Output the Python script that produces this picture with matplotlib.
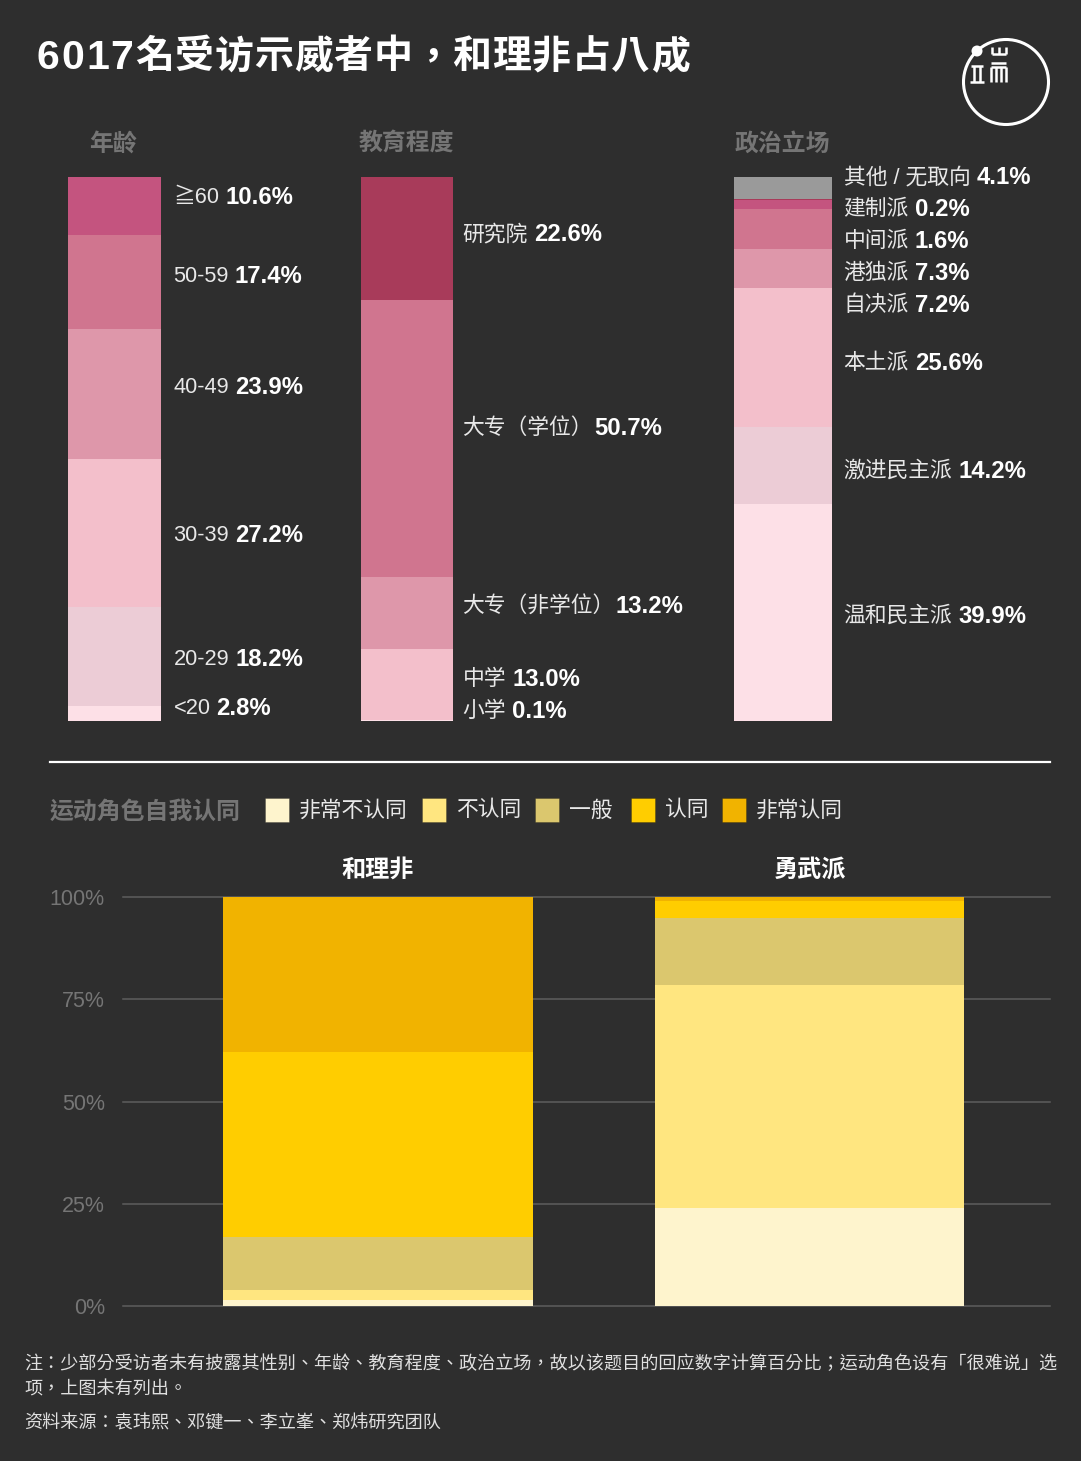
import matplotlib
matplotlib.use('Agg')
import matplotlib.pyplot as plt
from matplotlib.patches import Circle, Rectangle

plt.rcParams['font.family'] = ['Liberation Sans', 'Noto Sans CJK TC', 'DejaVu Sans']

W, H = 1081, 1461
BG = '#2e2e2e'
GREY = '#757575'

# top stacks, listed from the top of the bar down
age_labels = ['≧60', '50-59', '40-49', '30-39', '20-29', '<20']
age_values = [10.6, 17.4, 23.9, 27.2, 18.2, 2.8]
age_colors = ['#c4547f', '#d0758f', '#de97aa', '#f3bfcb', '#ecccd6', '#fde0e7']
age_label_y = [196, 275, 386, 534, 658, 707]

edu_labels = ['研究院', '大专（学位）', '大专（非学位）', '中学', '小学']
edu_values = [22.6, 50.7, 13.2, 13.0, 0.1]
edu_colors = ['#a83b5a', '#d0758f', '#de97aa', '#f3bfcb', '#fde0e7']
edu_label_y = [233, 427, 605, 678, 710]

pol_labels = ['其他 / 无取向', '建制派', '中间派', '港独派', '自决派', '本土派', '激进民主派', '温和民主派']
pol_values = [4.1, 0.2, 1.6, 7.3, 7.2, 25.6, 14.2, 39.9]
pol_colors = ['#9a9a9a', '#a83b5a', '#c4547f', '#d0758f', '#de97aa', '#f3bfcb', '#ecccd6', '#fde0e7']
pol_label_y = [176, 208, 240, 272, 304, 362, 470, 615]

# bottom chart
groups = ['和理非', '勇武派']
levels = ['非常不认同', '不认同', '一般', '认同', '非常认同']
level_colors = ['#fef4cd', '#ffe680', '#dbc76e', '#ffcd00', '#f1b300']
moderate = [1.5, 2.5, 12.8, 45.2, 38.0]
radical = [24.0, 54.5, 16.4, 4.0, 1.1]
yticks = [0, 25, 50, 75, 100]

title = '6017名受访示威者中，和理非占八成'

fig = plt.figure(figsize=(W / 100, H / 100), dpi=100, facecolor=BG)


def px_axes(x0, y0, x1, y1):
    ax = fig.add_axes([x0 / W, 1 - y1 / H, (x1 - x0) / W, (y1 - y0) / H])
    ax.set_facecolor('none')
    return ax


# overlay in pixel coords for text and decoration
ov = px_axes(0, 0, W, H)
ov.set_xlim(0, W)
ov.set_ylim(H, 0)
ov.axis('off')
ov.set_zorder(5)
renderer = fig.canvas.get_renderer()


def label(x, y, name, value):
    t = ov.text(x, y + 1.5, name, color='#e8e8e8', fontsize=15.7, va='center')
    end = t.get_window_extent(renderer).x1 * W / fig.bbox.width
    # closing bracket carries blank space on its right
    gap = 1 if name.endswith('）') else 6
    ov.text(end + gap, y + 1.5, f'{value}%', color='white', fontsize=17.2,
            fontweight='bold', va='center')


def stack(x0, x1, values, colors, names, label_x, label_y, head, head_x):
    ax = px_axes(x0, 177, x1, 721)
    bottom = 0
    for v, c in zip(values, colors):
        ax.bar(0, v, width=1, bottom=bottom, color=c, linewidth=0)
        bottom += v
    ax.set_xlim(-0.5, 0.5)
    ax.set_ylim(sum(values), 0)
    ax.axis('off')
    for n, v, y in zip(names, values, label_y):
        label(label_x, y, n, v)
    ov.text(head_x, 144, head, color=GREY, fontsize=17.2, fontweight='bold',
            ha='center', va='center')


stack(68, 161, age_values, age_colors, age_labels, 173.5, age_label_y, '年龄', 113)
stack(361, 453, edu_values, edu_colors, edu_labels, 462.5, edu_label_y, '教育程度', 406)
stack(734, 832, pol_values, pol_colors, pol_labels, 843.5, pol_label_y, '政治立场', 782)

# title has letter spacing, so place it glyph by glyph
cx = 37
for ch in title:
    size = 29.5 if ch.isdigit() else 28
    ov.text(cx, 58, ch, color='white', fontsize=size, fontweight='bold', ha='left', va='center')
    cx += 24.5 if ch.isdigit() else 39.7

# logo
ov.add_patch(Circle((1006, 82), 42.5, fill=False, ec='white', lw=2.2))
ov.add_patch(Circle((977, 51), 5.5, fc='white', ec='none'))
logo_lines = [
    ([971, 983], [66, 66]), ([970, 984], [82, 82]), ([974, 974], [66, 82]), ([980, 980], [66, 82]),
    ([992, 1006], [54, 54]), ([992, 992], [47, 54]), ([999, 999], [47, 54]), ([1006, 1006], [47, 54]),
    ([991, 1006], [63, 63]), ([991, 1006], [67, 67]), ([991, 991], [67, 82]), ([996, 996], [67, 82]),
    ([1001, 1001], [67, 82]), ([1006, 1006], [67, 82]),
]
for xs, ys in logo_lines:
    ov.plot(xs, ys, color='white', lw=1.8, solid_capstyle='butt')

# divider
ov.plot([50, 1050], [762, 762], color='white', lw=1.6)

# legend row
ov.text(50, 812, '运动角色自我认同', color=GREY, fontsize=17.2, fontweight='bold', va='center')
swatch_x = [265, 422, 535, 631, 722]
for sx, name, c in zip(swatch_x, levels, level_colors):
    ov.add_patch(Rectangle((sx, 798), 24, 24, fc=c, ec=(0, 0, 0, 0.25), lw=0.6))
    ov.text(sx + 34, 811, name, color='#e8e8e8', fontsize=15.7, va='center')

# bottom stacked bars
ax = px_axes(123, 897, 1050, 1306)
positions = [0, 1]
bar_w = 0.717
for pos, series in zip(positions, [moderate, radical]):
    bottom = 0
    for v, c in zip(series, level_colors):
        ax.bar(pos, v, width=bar_w, bottom=bottom, color=c, linewidth=0, zorder=3)
        bottom += v
ax.set_xlim((123 - 378) / 431.5, (1050 - 378) / 431.5)
ax.set_ylim(0, 100)
ax.set_yticks(yticks)
ax.set_yticklabels([f'{t}%' for t in yticks], color=GREY, fontsize=15.5)
ax.set_xticks([])
ax.tick_params(axis='y', length=0, pad=13)
ax.grid(axis='y', color='#5e5e5e', lw=1.1, zorder=0)
ax.set_axisbelow(True)
for s in ax.spines.values():
    s.set_visible(False)
for line in ax.get_ygridlines():
    line.set_clip_on(False)
for pos, g in zip(positions, groups):
    ax.text(pos, 1.065, g, transform=ax.get_xaxis_transform(), color='white', fontsize=17.4,
            fontweight='bold', ha='center', va='center')

# footnotes
note_color = '#e0e0e0'
ov.text(24, 1364, '注：少部分受访者未有披露其性别、年龄、教育程度、政治立场，故以该题目的回应数字计算百分比；运动角色设有「很难说」选',
        color=note_color, fontsize=13.05, va='center')
ov.text(24, 1390, '项，上图未有列出。', color=note_color, fontsize=13.05, va='center')
ov.text(24, 1424, '资料来源：袁玮熙、邓键一、李立峯、郑炜研究团队', color=note_color, fontsize=13.05, va='center')

fig.savefig('out.png', dpi=100, facecolor=BG)
